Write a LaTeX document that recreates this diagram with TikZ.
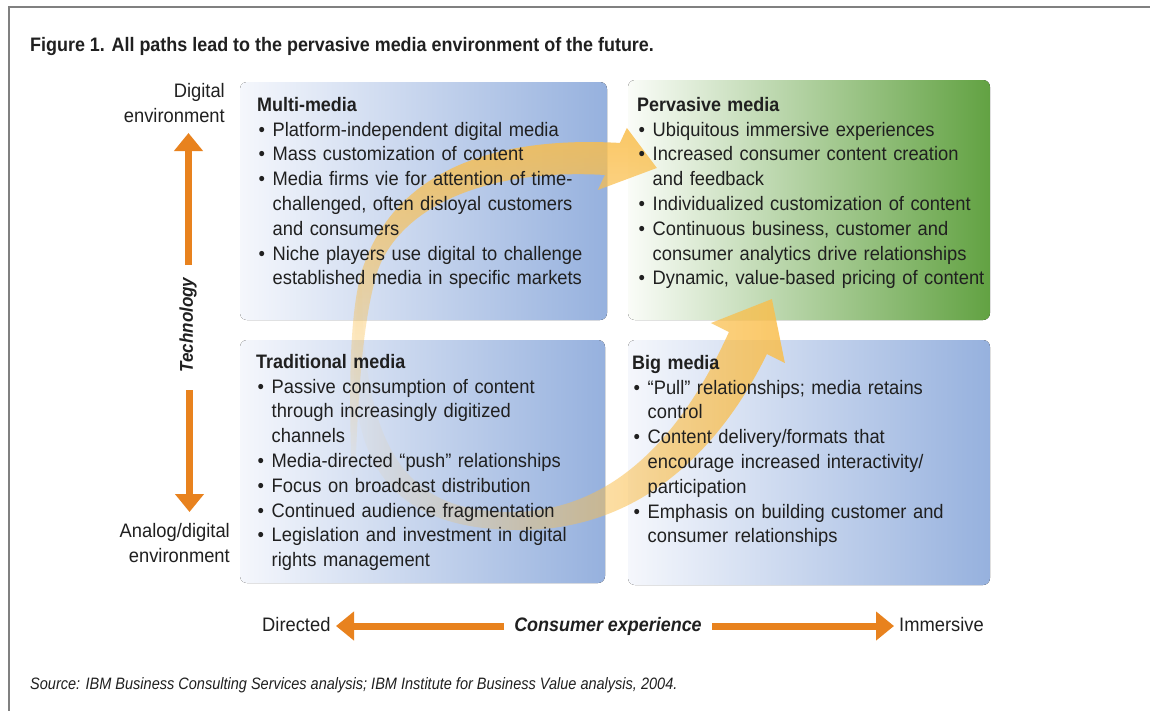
\documentclass[tikz,border=0pt]{standalone}
\usepackage{fontspec}
\setmainfont{Liberation Sans}
\newfontfamily\bodyf[FakeStretch=0.94]{Liberation Sans}
\newfontfamily\headf[FakeStretch=0.92]{Liberation Sans}
\newfontfamily\srcf[FakeStretch=0.88]{Liberation Sans}
\usetikzlibrary{fadings,arrows.meta}

\definecolor{ink}{RGB}{32,32,32}
\definecolor{axisorange}{RGB}{232,130,30}
\definecolor{flow}{RGB}{250,190,75}
\definecolor{paleblue}{RGB}{245,247,252}
\definecolor{deepblue}{RGB}{150,177,222}
\definecolor{palegreen}{RGB}{250,252,248}
\definecolor{deepgreen}{RGB}{98,162,66}
\definecolor{framegray}{RGB}{128,128,128}

\tikzfading[name=fadeupward, bottom color=transparent!100, top color=transparent!0]
\tikzfading[name=faderight, left color=transparent!100, middle color=transparent!35, right color=transparent!0]

% one bullet entry with a hanging indent; \newline keeps the paragraph going
\newcommand{\itm}[1]{\par\hangindent=15.5pt\hangafter=1\noindent\makebox[15.5pt][l]{\hspace{1.5pt}•}#1}
\newcommand{\quadhead}[1]{\rule{0pt}{17pt}{\headf\bfseries #1}}

\tikzset{
  quadtext/.style={anchor=north west, inner sep=0pt, text width=420pt, text=ink,
    font=\bodyf\fontsize{19.5}{24.8}\selectfont,
    execute at begin node={\raggedright\parindent=0pt\parskip=0pt\lineskiplimit=-20pt}},
  sidelabel/.style={anchor=north east, inner sep=0pt, text width=130pt, text=ink,
    font=\bodyf\fontsize{19.5}{24.8}\selectfont,
    execute at begin node={\raggedleft\parindent=0pt\lineskiplimit=-20pt}},
  axislabel/.style={inner sep=0pt, text=ink, font=\bodyf\fontsize{19.5}{24}\selectfont},
  axistitle/.style={inner sep=0pt, text=ink, font=\headf\bfseries\itshape\fontsize{19.5}{24}\selectfont},
  axisarrow/.style={draw=axisorange, line width=7pt, -{Triangle[length=18pt,width=28pt]}},
  bluequad/.style={left color=paleblue, right color=deepblue, rounded corners=7pt},
  greenquad/.style={left color=palegreen, right color=deepgreen, rounded corners=7pt},
  flowband/.style={fill=flow, fill opacity=0.85}
}

\begin{document}
\begin{tikzpicture}[x=1pt,y=-1pt]
\useasboundingbox (0,0) rectangle (1150,710);
\clip (0,0) rectangle (1150,710);
\fill[white] (0,0) rectangle (1150,710);

% outer frame (runs off the right and bottom edges)
\draw[framegray, line width=2pt] (1170,7) -- (9,7) -- (9,730);

% title
\node[anchor=base west, inner sep=0pt, text=ink,
      font=\headf\bfseries\fontsize{19.5}{24}\selectfont] (title) at (30,51)
  {Figure 1. All paths lead to the pervasive media environment of the future.};

% quadrant backgrounds
\fill[bluequad]  (240,82)  rectangle (607,320);
\fill[greenquad] (628,80)  rectangle (990,320);
\fill[bluequad]  (240,340) rectangle (605,583);
\fill[bluequad]  (628,340) rectangle (990,585);

% broad curved flow arrows
\fill[flowband, path fading=fadeupward]
  (352,480) .. controls (348,380) and (350,300) .. (365,262)
  .. controls (395,180) and (480,135) .. (620,143)
  -- (627,128) -- (657,168) -- (598,190) -- (605,175)
  .. controls (480,168) and (400,210) .. (378,270)
  .. controls (362,320) and (358,400) .. (355,480) -- cycle;
\fill[flowband, path fading=faderight]
  (362,270) .. controls (340,420) and (355,530) .. (520,530)
  .. controls (640,530) and (720,450) .. (767,354)
  -- (785,363) -- (772,299) -- (711,323) -- (729,332)
  .. controls (680,440) and (610,512) .. (510,512)
  .. controls (400,512) and (360,440) .. (362,270) -- cycle;

% quadrant texts
\node[quadtext] (multi) at (257,94) {\quadhead{Multi-media}
  \itm{Platform-independent digital media}
  \itm{Mass customization of content}
  \itm{Media firms vie for attention of time-\newline challenged, often disloyal customers\newline and consumers}
  \itm{Niche players use digital to challenge\newline established media in specific markets}\par};

\node[quadtext] (pervasive) at (637,94) {\quadhead{Pervasive media}
  \itm{Ubiquitous immersive experiences}
  \itm{Increased consumer content creation\newline and feedback}
  \itm{Individualized customization of content}
  \itm{Continuous business, customer and\newline consumer analytics drive relationships}
  \itm{Dynamic, value-based pricing of content}\par};

\node[quadtext] (traditional) at (256,351) {\quadhead{Traditional media}
  \itm{Passive consumption of content\newline through increasingly digitized\newline channels}
  \itm{Media-directed “push” relationships}
  \itm{Focus on broadcast distribution}
  \itm{Continued audience fragmentation}
  \itm{Legislation and investment in digital\newline rights management}\par};

\node[quadtext] (big) at (632,352) {\quadhead{Big media}
  \itm{“Pull” relationships; media retains\newline control}
  \itm{Content delivery/formats that\newline encourage increased interactivity/\newline participation}
  \itm{Emphasis on building customer and\newline consumer relationships}\par};

% technology axis
\node[sidelabel] (digital) at (225,80) {\rule{0pt}{17pt}Digital\\environment\par};
\node[sidelabel] (analog) at (230,520) {\rule{0pt}{17pt}Analog/digital\\environment\par};
\node[inner sep=0pt, text=ink, rotate=90,
      font=\headf\bfseries\itshape\fontsize{18.5}{22}\selectfont] (tech) at (188,325) {Technology};
\coordinate (upStart) at (188.5,265);
\coordinate (upEnd) at (188.5,133);
\coordinate (downStart) at (189.5,390);
\coordinate (downEnd) at (189.5,512);
\draw[axisarrow] (upStart) -- (upEnd);
\draw[axisarrow] (downStart) -- (downEnd);

% consumer experience axis
\node[axislabel, anchor=base west] (directed) at (262,631) {Directed};
\node[axislabel, anchor=base west] (immersive) at (899,631) {Immersive};
\node[axistitle] (consumer) at (608,626) {Consumer experience};
\coordinate (leftStart) at (504,626);
\coordinate (leftEnd) at (336,626);
\coordinate (rightStart) at (712,626);
\coordinate (rightEnd) at (894,626);
\draw[axisarrow] (leftStart) -- (leftEnd);
\draw[axisarrow] (rightStart) -- (rightEnd);

% source line
\node[anchor=base west, inner sep=0pt, text=ink,
      font=\srcf\itshape\fontsize{16.5}{20}\selectfont] (source) at (30,689)
  {Source: IBM Business Consulting Services analysis; IBM Institute for Business Value analysis, 2004.};
\end{tikzpicture}
\end{document}
